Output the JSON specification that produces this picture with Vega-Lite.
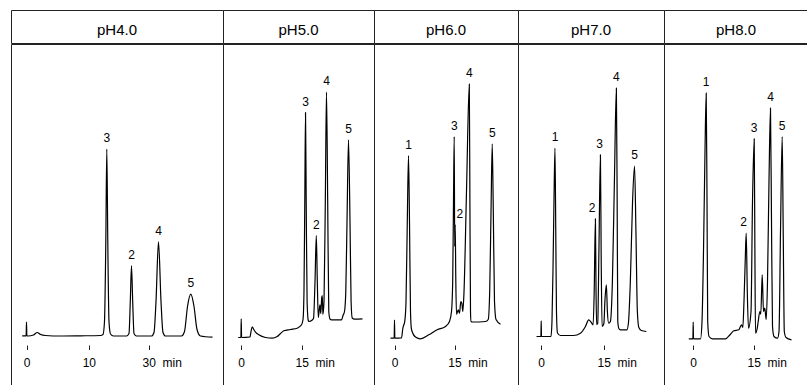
{
  "$schema": "https://vega.github.io/schema/vega-lite/v6.json",
  "background": "white",
  "padding": {"left": 10, "top": 9, "right": 0, "bottom": 0},
  "config": {
    "font": "Liberation Sans",
    "view": {"stroke": "#222", "strokeWidth": 1},
    "concat": {"spacing": 0},
    "axisX": {"offset": -42, "domain": false, "grid": false, "ticks": true, "tickSize": 4.5, "tickColor": "#222", "tickWidth": 1, "labelFont": "Liberation Sans", "labelFontSize": 12, "labelColor": "#000", "labelPadding": 8, "labelFlush": false, "labelOverlap": false},
    "line": {"color": "#000", "strokeWidth": 1.2, "interpolate": "monotone"},
    "text": {"font": "Liberation Sans", "color": "#000"}
  },
  "datasets": {
    "trace": [
      {"p":"pH4.0","t":-0.69,"s":5.7},{"p":"pH4.0","t":-0.06,"s":5.7},{"p":"pH4.0","t":0,"s":19.3},{"p":"pH4.0","t":0.06,"s":5.7},{"p":"pH4.0","t":0.24,"s":5.5},{"p":"pH4.0","t":1.12,"s":6.5},{"p":"pH4.0","t":1.72,"s":9},{"p":"pH4.0","t":2.25,"s":7},{"p":"pH4.0","t":3.05,"s":6},{"p":"pH4.0","t":5.46,"s":5.5},{"p":"pH4.0","t":8.67,"s":5.7},{"p":"pH4.0","t":13.9,"s":6},{"p":"pH4.0","t":14.73,"s":7},{"p":"pH4.0","t":15.23,"s":20},{"p":"pH4.0","t":15.67,"s":100},{"p":"pH4.0","t":16.0,"s":192.3},{"p":"pH4.0","t":16.33,"s":100},{"p":"pH4.0","t":16.73,"s":20},{"p":"pH4.0","t":17.23,"s":7.5},{"p":"pH4.0","t":18.23,"s":5.5},{"p":"pH4.0","t":22.57,"s":5.5},{"p":"pH4.0","t":23.4,"s":8},{"p":"pH4.0","t":23.83,"s":40},{"p":"pH4.0","t":24.23,"s":75.7},{"p":"pH4.0","t":24.63,"s":40},{"p":"pH4.0","t":25.07,"s":8},{"p":"pH4.0","t":25.9,"s":5.5},{"p":"pH4.0","t":30.9,"s":5.5},{"p":"pH4.0","t":31.73,"s":9},{"p":"pH4.0","t":32.4,"s":40},{"p":"pH4.0","t":33.23,"s":100},{"p":"pH4.0","t":34.07,"s":40},{"p":"pH4.0","t":34.73,"s":9},{"p":"pH4.0","t":35.57,"s":5.5},{"p":"pH4.0","t":40.9,"s":5.5},{"p":"pH4.0","t":41.9,"s":10},{"p":"pH4.0","t":42.9,"s":35},{"p":"pH4.0","t":44.0,"s":47.3},{"p":"pH4.0","t":45.07,"s":35},{"p":"pH4.0","t":46.07,"s":12},{"p":"pH4.0","t":47.23,"s":5.5},{"p":"pH4.0","t":51.23,"s":4.3},

      {"p":"pH5.0","t":-0.74,"s":4},{"p":"pH5.0","t":-0.07,"s":4},{"p":"pH5.0","t":0,"s":22.7},{"p":"pH5.0","t":0.1,"s":4},{"p":"pH5.0","t":2.18,"s":4.5},{"p":"pH5.0","t":2.43,"s":10},{"p":"pH5.0","t":2.72,"s":14.7},{"p":"pH5.0","t":3.04,"s":12.5},{"p":"pH5.0","t":3.54,"s":9.3},{"p":"pH5.0","t":4.36,"s":6.7},{"p":"pH5.0","t":6.01,"s":4},{"p":"pH5.0","t":7.67,"s":3.3},{"p":"pH5.0","t":8.91,"s":5},{"p":"pH5.0","t":9.73,"s":8},{"p":"pH5.0","t":10.54,"s":10.7},{"p":"pH5.0","t":12.2,"s":12},{"p":"pH5.0","t":13.86,"s":13.3},{"p":"pH5.0","t":14.93,"s":16.7},{"p":"pH5.0","t":15.3,"s":22},{"p":"pH5.0","t":15.54,"s":50},{"p":"pH5.0","t":15.74,"s":140},{"p":"pH5.0","t":15.92,"s":229},{"p":"pH5.0","t":16.09,"s":140},{"p":"pH5.0","t":16.31,"s":40},{"p":"pH5.0","t":16.6,"s":21},{"p":"pH5.0","t":16.75,"s":20},{"p":"pH5.0","t":17.6,"s":21.5},{"p":"pH5.0","t":17.9,"s":23},{"p":"pH5.0","t":18.27,"s":60},{"p":"pH5.0","t":18.59,"s":106},{"p":"pH5.0","t":18.84,"s":60},{"p":"pH5.0","t":19.08,"s":24},{"p":"pH5.0","t":19.33,"s":32},{"p":"pH5.0","t":19.5,"s":36.7},{"p":"pH5.0","t":19.7,"s":28},{"p":"pH5.0","t":19.93,"s":44},{"p":"pH5.0","t":20.07,"s":46},{"p":"pH5.0","t":20.22,"s":27},{"p":"pH5.0","t":20.5,"s":40},{"p":"pH5.0","t":20.82,"s":140},{"p":"pH5.0","t":21.11,"s":249.3},{"p":"pH5.0","t":21.41,"s":140},{"p":"pH5.0","t":21.68,"s":30},{"p":"pH5.0","t":21.98,"s":22.5},{"p":"pH5.0","t":22.35,"s":21.7},{"p":"pH5.0","t":24.83,"s":21.7},{"p":"pH5.0","t":25.2,"s":26},{"p":"pH5.0","t":25.57,"s":30},{"p":"pH5.0","t":25.89,"s":50},{"p":"pH5.0","t":26.19,"s":120},{"p":"pH5.0","t":26.56,"s":201.7},{"p":"pH5.0","t":26.93,"s":120},{"p":"pH5.0","t":27.2,"s":40},{"p":"pH5.0","t":27.48,"s":23.5},{"p":"pH5.0","t":28.04,"s":22.3},{"p":"pH5.0","t":30.02,"s":22.7},

      {"p":"pH6.0","t":-1,"s":3.3},{"p":"pH6.0","t":-0.08,"s":3.3},{"p":"pH6.0","t":0,"s":21.3},{"p":"pH6.0","t":0.08,"s":3.3},{"p":"pH6.0","t":1.75,"s":3.5},{"p":"pH6.0","t":2.08,"s":13},{"p":"pH6.0","t":2.58,"s":20.7},{"p":"pH6.0","t":2.88,"s":40},{"p":"pH6.0","t":3.2,"s":120},{"p":"pH6.0","t":3.5,"s":186},{"p":"pH6.0","t":3.75,"s":120},{"p":"pH6.0","t":4.0,"s":30},{"p":"pH6.0","t":4.25,"s":12},{"p":"pH6.0","t":5.25,"s":4.5},{"p":"pH6.0","t":6.5,"s":2.7},{"p":"pH6.0","t":8.58,"s":6.7},{"p":"pH6.0","t":10.68,"s":11.7},{"p":"pH6.0","t":12.75,"s":15},{"p":"pH6.0","t":13.75,"s":20},{"p":"pH6.0","t":14.25,"s":30},{"p":"pH6.0","t":14.55,"s":60},{"p":"pH6.0","t":14.75,"s":140},{"p":"pH6.0","t":14.93,"s":205},{"p":"pH6.0","t":15.05,"s":95},{"p":"pH6.0","t":15.18,"s":117},{"p":"pH6.0","t":15.33,"s":60},{"p":"pH6.0","t":15.5,"s":27},{"p":"pH6.0","t":15.93,"s":31.7},{"p":"pH6.0","t":16.25,"s":28.3},{"p":"pH6.0","t":16.58,"s":40},{"p":"pH6.0","t":16.83,"s":38.3},{"p":"pH6.0","t":17.08,"s":30},{"p":"pH6.0","t":17.38,"s":50},{"p":"pH6.0","t":18.0,"s":150},{"p":"pH6.0","t":18.7,"s":257.3},{"p":"pH6.0","t":18.85,"s":140},{"p":"pH6.0","t":19.0,"s":30},{"p":"pH6.0","t":19.13,"s":20},{"p":"pH6.0","t":19.5,"s":19.5},{"p":"pH6.0","t":22.75,"s":20},{"p":"pH6.0","t":23.43,"s":22},{"p":"pH6.0","t":23.8,"s":50},{"p":"pH6.0","t":24.13,"s":130},{"p":"pH6.0","t":24.43,"s":197.7},{"p":"pH6.0","t":24.7,"s":130},{"p":"pH6.0","t":25.0,"s":40},{"p":"pH6.0","t":25.38,"s":22},{"p":"pH6.0","t":26.5,"s":17.3},

      {"p":"pH7.0","t":-1.12,"s":5},{"p":"pH7.0","t":-0.07,"s":5},{"p":"pH7.0","t":0,"s":20.7},{"p":"pH7.0","t":0.07,"s":5},{"p":"pH7.0","t":2.34,"s":5},{"p":"pH7.0","t":2.58,"s":20},{"p":"pH7.0","t":2.82,"s":70},{"p":"pH7.0","t":3.06,"s":140},{"p":"pH7.0","t":3.3,"s":193.3},{"p":"pH7.0","t":3.49,"s":110},{"p":"pH7.0","t":3.66,"s":30},{"p":"pH7.0","t":3.9,"s":8.5},{"p":"pH7.0","t":4.62,"s":6},{"p":"pH7.0","t":7.73,"s":6},{"p":"pH7.0","t":9.4,"s":8.3},{"p":"pH7.0","t":10.6,"s":15},{"p":"pH7.0","t":11.39,"s":21.7},{"p":"pH7.0","t":11.96,"s":19.3},{"p":"pH7.0","t":12.44,"s":16.7},{"p":"pH7.0","t":12.7,"s":50},{"p":"pH7.0","t":12.99,"s":122.7},{"p":"pH7.0","t":13.14,"s":50},{"p":"pH7.0","t":13.28,"s":17},{"p":"pH7.0","t":13.54,"s":18},{"p":"pH7.0","t":13.83,"s":90},{"p":"pH7.0","t":14.19,"s":186.7},{"p":"pH7.0","t":14.38,"s":80},{"p":"pH7.0","t":14.59,"s":15},{"p":"pH7.0","t":15.02,"s":18},{"p":"pH7.0","t":15.26,"s":40},{"p":"pH7.0","t":15.62,"s":56.7},{"p":"pH7.0","t":15.86,"s":30},{"p":"pH7.0","t":16.17,"s":18.3},{"p":"pH7.0","t":16.58,"s":20},{"p":"pH7.0","t":17.06,"s":60},{"p":"pH7.0","t":17.54,"s":160},{"p":"pH7.0","t":18.01,"s":253.3},{"p":"pH7.0","t":18.2,"s":140},{"p":"pH7.0","t":18.35,"s":20},{"p":"pH7.0","t":18.61,"s":13},{"p":"pH7.0","t":18.97,"s":11.7},{"p":"pH7.0","t":20.53,"s":11.7},{"p":"pH7.0","t":20.89,"s":18},{"p":"pH7.0","t":21.36,"s":60},{"p":"pH7.0","t":21.89,"s":140},{"p":"pH7.0","t":22.37,"s":175.3},{"p":"pH7.0","t":22.7,"s":110},{"p":"pH7.0","t":23.04,"s":30},{"p":"pH7.0","t":23.4,"s":14},{"p":"pH7.0","t":24.0,"s":11},{"p":"pH7.0","t":25.19,"s":10},

      {"p":"pH8.0","t":-1.09,"s":2.7},{"p":"pH8.0","t":-0.07,"s":2.7},{"p":"pH8.0","t":0,"s":19.3},{"p":"pH8.0","t":0.07,"s":2.7},{"p":"pH8.0","t":1.81,"s":2.7},{"p":"pH8.0","t":2.18,"s":20},{"p":"pH8.0","t":2.55,"s":90},{"p":"pH8.0","t":2.92,"s":190},{"p":"pH8.0","t":3.22,"s":248.3},{"p":"pH8.0","t":3.42,"s":140},{"p":"pH8.0","t":3.59,"s":20},{"p":"pH8.0","t":3.91,"s":5},{"p":"pH8.0","t":4.78,"s":2.7},{"p":"pH8.0","t":8.0,"s":2.7},{"p":"pH8.0","t":9.23,"s":7.3},{"p":"pH8.0","t":10.05,"s":10.7},{"p":"pH8.0","t":11.29,"s":11.7},{"p":"pH8.0","t":11.96,"s":16.7},{"p":"pH8.0","t":12.28,"s":14},{"p":"pH8.0","t":12.57,"s":40},{"p":"pH8.0","t":12.87,"s":80},{"p":"pH8.0","t":13.12,"s":108.3},{"p":"pH8.0","t":13.39,"s":50},{"p":"pH8.0","t":13.69,"s":13.3},{"p":"pH8.0","t":14.31,"s":30},{"p":"pH8.0","t":14.68,"s":140},{"p":"pH8.0","t":15.1,"s":202.7},{"p":"pH8.0","t":15.27,"s":90},{"p":"pH8.0","t":15.42,"s":8.3},{"p":"pH8.0","t":15.79,"s":12},{"p":"pH8.0","t":16.09,"s":20},{"p":"pH8.0","t":16.49,"s":30},{"p":"pH8.0","t":16.73,"s":27.3},{"p":"pH8.0","t":17.08,"s":66.7},{"p":"pH8.0","t":17.4,"s":30},{"p":"pH8.0","t":17.72,"s":33.3},{"p":"pH8.0","t":18.07,"s":22},{"p":"pH8.0","t":18.39,"s":60},{"p":"pH8.0","t":18.76,"s":160},{"p":"pH8.0","t":19.13,"s":233.3},{"p":"pH8.0","t":19.38,"s":120},{"p":"pH8.0","t":19.63,"s":15},{"p":"pH8.0","t":20.0,"s":5},{"p":"pH8.0","t":20.87,"s":3.3},{"p":"pH8.0","t":21.24,"s":10},{"p":"pH8.0","t":21.61,"s":110},{"p":"pH8.0","t":22.03,"s":205},{"p":"pH8.0","t":22.28,"s":110},{"p":"pH8.0","t":22.55,"s":10},{"p":"pH8.0","t":22.97,"s":4},{"p":"pH8.0","t":24.33,"s":1.7}
    ],
    "labels": [
      {"p":"pH4.0","n":"3","t":16.0,"s":192.3},{"p":"pH4.0","n":"2","t":24.23,"s":75.7},{"p":"pH4.0","n":"4","t":33.23,"s":100},{"p":"pH4.0","n":"5","t":44.0,"s":47.3},
      {"p":"pH5.0","n":"3","t":15.92,"s":229},{"p":"pH5.0","n":"2","t":18.59,"s":106},{"p":"pH5.0","n":"4","t":21.11,"s":249.3},{"p":"pH5.0","n":"5","t":26.56,"s":201.7},
      {"p":"pH6.0","n":"1","t":3.5,"s":186},{"p":"pH6.0","n":"3","t":14.93,"s":205},{"p":"pH6.0","n":"2","t":16.33,"s":117},{"p":"pH6.0","n":"4","t":18.7,"s":257.3},{"p":"pH6.0","n":"5","t":24.43,"s":197.7},
      {"p":"pH7.0","n":"1","t":3.3,"s":193.3},{"p":"pH7.0","n":"2","t":12.2,"s":122.7},{"p":"pH7.0","n":"3","t":14.0,"s":186.7},{"p":"pH7.0","n":"4","t":18.01,"s":253.3},{"p":"pH7.0","n":"5","t":22.37,"s":175.3},
      {"p":"pH8.0","n":"1","t":3.22,"s":248.3},{"p":"pH8.0","n":"2","t":12.5,"s":108.3},{"p":"pH8.0","n":"3","t":15.1,"s":202.7},{"p":"pH8.0","n":"4","t":19.13,"s":233.3},{"p":"pH8.0","n":"5","t":22.03,"s":205}
    ]
  },
  "spacing": -1,
  "vconcat": [
    {"spacing": 0, "bounds": "flush", "hconcat": [
      {"width": 212, "height": 33, "view": {"stroke": "#222", "strokeWidth": 1}, "data": {"values": [{"h": "pH4.0"}]}, "mark": {"type": "text", "fontSize": 15, "baseline": "alphabetic", "dy": 8}, "encoding": {"text": {"field": "h"}}},
      {"width": 151, "height": 33, "view": {"stroke": "#222", "strokeWidth": 1}, "data": {"values": [{"h": "pH5.0"}]}, "mark": {"type": "text", "fontSize": 15, "baseline": "alphabetic", "dy": 8}, "encoding": {"text": {"field": "h"}}},
      {"width": 144, "height": 33, "view": {"stroke": "#222", "strokeWidth": 1}, "data": {"values": [{"h": "pH6.0"}]}, "mark": {"type": "text", "fontSize": 15, "baseline": "alphabetic", "dy": 8}, "encoding": {"text": {"field": "h"}}},
      {"width": 146, "height": 33, "view": {"stroke": "#222", "strokeWidth": 1}, "data": {"values": [{"h": "pH7.0"}]}, "mark": {"type": "text", "fontSize": 15, "baseline": "alphabetic", "dy": 8}, "encoding": {"text": {"field": "h"}}},
      {"width": 144, "height": 33, "view": {"stroke": "#222", "strokeWidth": 1}, "data": {"values": [{"h": "pH8.0"}]}, "mark": {"type": "text", "fontSize": 15, "baseline": "alphabetic", "dy": 8}, "encoding": {"text": {"field": "h"}}}
    ]},
    {"spacing": 0, "bounds": "flush", "hconcat": [
      {"width": 212, "height": 343, "view": {"stroke": "#222", "strokeWidth": 1},
       "encoding": {
         "x": {"field": "t", "type": "quantitative", "scale": {"domain": [0, 10, 30], "range": [15.5, 77.8, 137.8]},
               "axis": {"title": null, "values": [0, 10, 30], "labelExpr": "datum.value == 30 ? '30\u00a0\u00a0min' : datum.label", "labelAlign": {"condition": {"test": "datum.value == 30", "value": "left"}, "value": "center"}, "labelOffset": {"condition": {"test": "datum.value == 30", "value": -6.7}, "value": 0}}},
         "y": {"field": "s", "type": "quantitative", "scale": {"domain": [-45.5, 297.5]}, "axis": null}
       },
       "layer": [
         {"data": {"name": "trace"}, "transform": [{"filter": "datum.p == 'pH4.0'"}], "mark": {"type": "line"}},
         {"data": {"name": "labels"}, "transform": [{"filter": "datum.p == 'pH4.0'"}], "mark": {"type": "text", "fontSize": 12, "baseline": "alphabetic", "dy": -7}, "encoding": {"text": {"field": "n"}}}
       ]},
      {"width": 151, "height": 343, "view": {"stroke": "#222", "strokeWidth": 1},
       "encoding": {
         "x": {"field": "t", "type": "quantitative", "scale": {"domain": [0, 15], "range": [18.2, 78.8]},
               "axis": {"title": null, "values": [0, 15], "labelExpr": "datum.value == 15 ? '15\u00a0\u00a0min' : datum.label", "labelAlign": {"condition": {"test": "datum.value == 15", "value": "left"}, "value": "center"}, "labelOffset": {"condition": {"test": "datum.value == 15", "value": -6.7}, "value": 0}}},
         "y": {"field": "s", "type": "quantitative", "scale": {"domain": [-45.5, 297.5]}, "axis": null}
       },
       "layer": [
         {"data": {"name": "trace"}, "transform": [{"filter": "datum.p == 'pH5.0'"}], "mark": {"type": "line"}},
         {"data": {"name": "labels"}, "transform": [{"filter": "datum.p == 'pH5.0'"}], "mark": {"type": "text", "fontSize": 12, "baseline": "alphabetic", "dy": -7}, "encoding": {"text": {"field": "n"}}}
       ]},
      {"width": 144, "height": 343, "view": {"stroke": "#222", "strokeWidth": 1},
       "encoding": {
         "x": {"field": "t", "type": "quantitative", "scale": {"domain": [0, 15], "range": [20.5, 80.5]},
               "axis": {"title": null, "values": [0, 15], "labelExpr": "datum.value == 15 ? '15\u00a0\u00a0min' : datum.label", "labelAlign": {"condition": {"test": "datum.value == 15", "value": "left"}, "value": "center"}, "labelOffset": {"condition": {"test": "datum.value == 15", "value": -6.7}, "value": 0}}},
         "y": {"field": "s", "type": "quantitative", "scale": {"domain": [-45.5, 297.5]}, "axis": null}
       },
       "layer": [
         {"data": {"name": "trace"}, "transform": [{"filter": "datum.p == 'pH6.0'"}], "mark": {"type": "line"}},
         {"data": {"name": "labels"}, "transform": [{"filter": "datum.p == 'pH6.0'"}], "mark": {"type": "text", "fontSize": 12, "baseline": "alphabetic", "dy": -7}, "encoding": {"text": {"field": "n"}}}
       ]},
      {"width": 146, "height": 343, "view": {"stroke": "#222", "strokeWidth": 1},
       "encoding": {
         "x": {"field": "t", "type": "quantitative", "scale": {"domain": [0, 15], "range": [23.2, 85.8]},
               "axis": {"title": null, "values": [0, 15], "labelExpr": "datum.value == 15 ? '15\u00a0\u00a0min' : datum.label", "labelAlign": {"condition": {"test": "datum.value == 15", "value": "left"}, "value": "center"}, "labelOffset": {"condition": {"test": "datum.value == 15", "value": -6.7}, "value": 0}}},
         "y": {"field": "s", "type": "quantitative", "scale": {"domain": [-45.5, 297.5]}, "axis": null}
       },
       "layer": [
         {"data": {"name": "trace"}, "transform": [{"filter": "datum.p == 'pH7.0'"}], "mark": {"type": "line"}},
         {"data": {"name": "labels"}, "transform": [{"filter": "datum.p == 'pH7.0'"}], "mark": {"type": "text", "fontSize": 12, "baseline": "alphabetic", "dy": -7}, "encoding": {"text": {"field": "n"}}}
       ]},
      {"width": 144, "height": 343, "view": {"stroke": "#222", "strokeWidth": 1},
       "encoding": {
         "x": {"field": "t", "type": "quantitative", "scale": {"domain": [0, 15], "range": [29.2, 89.8]},
               "axis": {"title": null, "values": [0, 15], "labelExpr": "datum.value == 15 ? '15\u00a0\u00a0min' : datum.label", "labelAlign": {"condition": {"test": "datum.value == 15", "value": "left"}, "value": "center"}, "labelOffset": {"condition": {"test": "datum.value == 15", "value": -6.7}, "value": 0}}},
         "y": {"field": "s", "type": "quantitative", "scale": {"domain": [-45.5, 297.5]}, "axis": null}
       },
       "layer": [
         {"data": {"name": "trace"}, "transform": [{"filter": "datum.p == 'pH8.0'"}], "mark": {"type": "line"}},
         {"data": {"name": "labels"}, "transform": [{"filter": "datum.p == 'pH8.0'"}], "mark": {"type": "text", "fontSize": 12, "baseline": "alphabetic", "dy": -7}, "encoding": {"text": {"field": "n"}}}
       ]}
    ]}
  ]
}
